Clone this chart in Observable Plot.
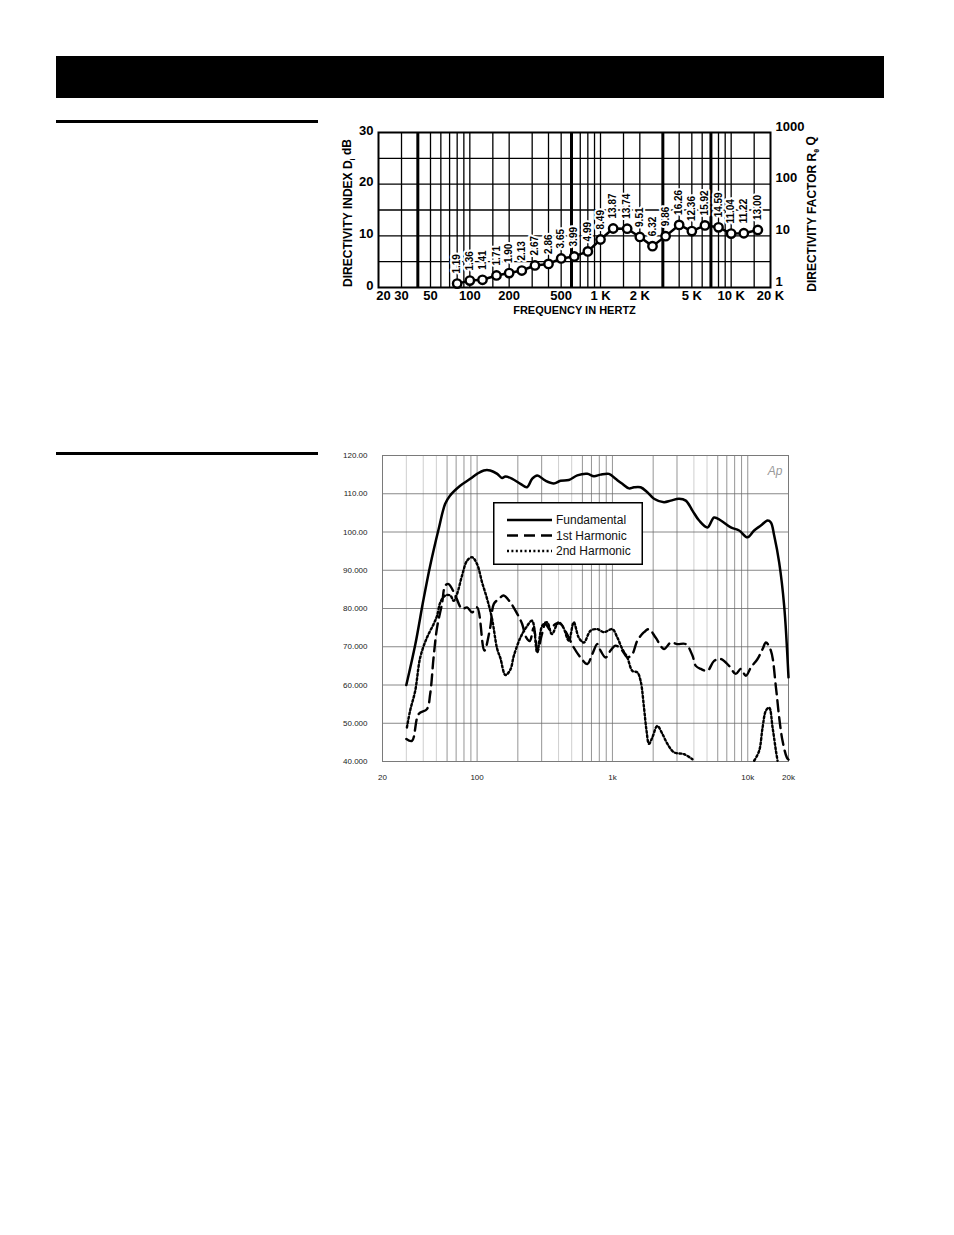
<!DOCTYPE html>
<html><head><meta charset="utf-8">
<script src="https://cdn.jsdelivr.net/npm/d3@7"></script>
<script src="https://cdn.jsdelivr.net/npm/@observablehq/plot@0.6"></script>
<style>
html,body{margin:0;padding:0;background:#fff;}
#page{position:relative;width:954px;height:1235px;overflow:hidden;font-family:"Liberation Sans",Arial,sans-serif;}
.abs{position:absolute;}
svg{display:block;}
</style></head><body><div id="page">
<div class="abs" style="left:56px;top:56px;width:828px;height:42px;background:#000"></div>
<div class="abs" style="left:56px;top:120px;width:262px;height:2.5px;background:#000"></div>
<div class="abs" style="left:56px;top:452px;width:262px;height:2.5px;background:#000"></div>
<div id="top" class="abs" style="left:330px;top:110px;width:500px;height:220px"></div>
<div id="bottom" class="abs" style="left:330px;top:440px;width:480px;height:360px"></div>
<div id="legend" class="abs" style="left:493px;top:502px;width:150px;height:63px"></div>
</div>
<script>
// ---------- Top chart data: directivity (1/3-octave bands) ----------
const bandFreqs = [80,100,125,160,200,250,315,400,500,630,800,1000,1250,1600,2000,2500,3150,4000,5000,6300,8000,10000,12500,16000];
const qValues = [1.19,1.36,1.41,1.71,1.90,2.13,2.67,2.86,3.65,3.99,4.99,8.49,13.87,13.74,9.51,6.32,9.86,16.26,12.36,15.92,14.59,11.04,11.22,13.00];
const topXTicks = [20,30,50,100,200,500,1000,2000,5000,10000,20000];
const topXLabels = ["20","30","50","100","200","500","1 K","2 K","5 K","10 K","20 K"];
const diTicks = [0,10,20,30];
const qTickLabels = ["1","10","100","1000"];
const diGridLines = [5,10,15,20,25];
const topGridFreqs = [30,50,60,70,80,90,100,150,200,300,400,500,700,800,900,1000,1500,2000,4000,5000,6000,8000,9000,10000,15000];
const topThickGridFreqs = [40,600,3000,7000];

// ---------- Bottom chart data: fundamental & harmonics ----------
const fundFreq = [30,35,40,45,52,58,63,75,89,100,112,125,141,153,162,182,209,234,255,278,320,369,413,476,550,652,730,817,942,1055,1183,1325,1443,1615,1811,2028,2404,2697,3107,3483,3902,4370,5036,5640,6325,7500,8630,9950,11150,12500,14000,14820,15690,17070,18580,20000];
const fundDb   = [60,70.7,82,91.2,100.8,107.3,109.5,112.1,113.9,115.2,116.1,116.1,115.2,114.1,114.5,113.9,112.6,111.7,113.9,114.8,113.4,112.7,113.4,113.6,114.8,115.2,114.6,115,115.2,113.9,112.6,111.4,111.7,111.7,110.4,108.7,107.8,108.2,108.7,108.2,105.6,103,101.2,103.8,103,101.2,100.4,98.6,100.4,101.7,103,102.5,99,92,80.7,62];

const h1Freq = [30,33,37,42.6,45,47.7,50.6,55,58.2,61.6,69,77.4,84.3,91.8,100,113,125,133,145,157,176,198,215,230,245,262,280,300,320,345,380,413,462,518,581,652,710,773,817,890,968,1055,1183,1288,1403,1528,1711,1862,2085,2404,2697,3020,3483,3902,4130,4500,5036,5640,6325,7280,8150,8890,9680,10550,11810,12870,13620,14820,16150,17070,18070,19460,20000];
const h1Db   = [45.9,45.4,52.4,53.7,57.6,67.2,75,81.2,86,86.4,83.4,79.9,80.3,79,80.3,69,75,81.2,82.5,83.4,81.6,78.6,76,72.5,71.5,75,69,73,76,74.5,76,76,73.3,69.8,67.2,65.5,68.1,70.7,69,67.2,69,70.3,69,67.2,68.1,71.6,73.8,74.6,72.4,69.4,71.1,70.7,70.7,67.7,65,64.2,63.7,66.3,66.8,65,62.9,64.2,62.4,64.6,66.8,69.4,71.1,69,59.4,51.5,45.4,41,40.5];

const h2Freq = [30.3,32,34.9,38,42.6,47.7,50.6,53.5,58.2,63.4,67.1,71.1,77.4,84.3,91.8,100,108.9,118.6,129,140.6,148.7,162,176,187,209,230,255,278,303,329,357,400,434,476,518,564,615,689,773,865,998,1087,1183,1288,1403,1528,1615,1711,1787,1862,1972,2148,2340,2549,2853,3383,3902,7000,11150,12140,12870,13620,14400,15250,16150,16600];
const h2Db   = [48.9,53.3,58.5,67.2,72.4,75.9,78.1,81.6,83.4,83.4,82,83.8,88.6,92.5,93.4,91.6,86.8,82.5,77.3,69.5,67,62.6,64,67.7,72.4,75,76.8,68.5,75.5,76.4,73.3,76.4,75,71.6,76.4,72.4,71.1,74.2,74.6,73.8,74.6,72.4,69.4,67.2,63.7,63.3,61.1,54.1,48,44.6,46.3,49.3,47.2,44.6,42.4,41.9,40.6,NaN,40.2,42.8,48.9,53.3,54.1,48.9,42.8,40.2];

const seriesNames = ["Fundamental","1st Harmonic","2nd Harmonic"];
const dbTicks = [40,50,60,70,80,90,100,110,120];
const botXTicks = [20,100,1000,10000,20000];
const botXLabels = ["20","100","1k","10k","20k"];
const botGridFreqs = [30,40,50,60,70,80,90,100,200,300,400,500,600,700,800,900,1000,2000,3000,4000,5000,6000,7000,8000,9000,10000];
const botLightGrid = [30,40,50,400,500,4000,5000];

// ---------- Top chart ----------
const topData = bandFreqs.map((f,i)=>({f, q: qValues[i], di: 10*Math.log10(qValues[i])}));
const FONT = "'Liberation Sans', Arial, Helvetica, sans-serif";
const topLabel = d => topXLabels[topXTicks.indexOf(d)];

const topSvg = Plot.plot({
  width: 500, height: 220,
  marginLeft: 48, marginRight: 60, marginTop: 22, marginBottom: 43,
  style: {fontFamily: FONT, fontWeight: "bold", background: "transparent", color: "#000", overflow: "visible"},
  x: {type: "log", domain: [20, 20000], axis: null},
  y: {domain: [0, 30]},
  marks: [
    Plot.ruleX(topGridFreqs, {stroke: "#000", strokeWidth: 1.3}),
    Plot.ruleX(topThickGridFreqs, {stroke: "#000", strokeWidth: 3}),
    Plot.ruleY(diGridLines, {stroke: "#000", strokeWidth: 1.3}),
    Plot.frame({stroke: "#000", strokeWidth: 2}),
    Plot.text(topData, {x: "f", y: "di", text: d => d.q.toFixed(2), rotate: -90, textAnchor: "start",
      lineAnchor: "middle", dy: -10, fontSize: 10, fontWeight: "bold", fill: "#000", stroke: "#fff", strokeWidth: 4}),
    Plot.line(topData, {x: "f", y: "di", stroke: "#000", strokeWidth: 2.5}),
    Plot.dot(topData, {x: "f", y: "di", r: 4.2, stroke: "#000", strokeWidth: 2.4, fill: "#fff"}),
    Plot.text(topXTicks.slice(0, 1), {x: d => d, frameAnchor: "bottom", text: topLabel,
      lineAnchor: "middle", dx: 5, dy: 8.5, fontSize: 13, fontWeight: "bold", fill: "#000"}),
    Plot.text(topXTicks.slice(1), {x: d => d, frameAnchor: "bottom", text: topLabel,
      lineAnchor: "middle", dy: 8.5, fontSize: 13, fontWeight: "bold", fill: "#000"}),
    Plot.axisY(diTicks, {anchor: "left", tickSize: 0, tickPadding: 5, dy: -2, fontSize: 13, fontWeight: "bold", label: null}),
    Plot.axisY(diTicks, {anchor: "right", tickSize: 0, tickPadding: 5, dy: -6, fontSize: 13, fontWeight: "bold",
      tickFormat: d => qTickLabels[diTicks.indexOf(d)], label: null}),
    Plot.text(["FREQUENCY IN HERTZ"], {frameAnchor: "bottom", textAnchor: "middle", dy: 26, fontSize: 11, fontWeight: "bold"}),
    Plot.text(["DIRECTIVITY INDEX Di dB"], {frameAnchor: "left", textAnchor: "middle", rotate: -90, dx: -30, dy: 3, fontSize: 12, fontWeight: "bold"}),
    Plot.text(["DIRECTIVITY FACTOR Rθ Q"], {frameAnchor: "right", textAnchor: "middle", rotate: -90, dx: 42, dy: 4, fontSize: 12, fontWeight: "bold"})
  ]
});
document.getElementById("top").appendChild(topSvg);

function subscriptify(svg, full, before, sub, after) {
  d3.select(svg).selectAll("text").filter(function(){ return this.textContent === full; }).each(function(){
    const t = d3.select(this);
    t.selectAll("*").remove();
    t.text(null);
    t.attr("text-anchor", "middle");
    t.append("tspan").text(before);
    t.append("tspan").attr("font-size", "0.6em").attr("dy", "0.35em").text(sub);
    t.append("tspan").attr("dy", "-0.35em").text(after);
  });
}
subscriptify(topSvg, "DIRECTIVITY INDEX Di dB", "DIRECTIVITY INDEX D", "i", " dB");
subscriptify(topSvg, "DIRECTIVITY FACTOR Rθ Q", "DIRECTIVITY FACTOR R", "θ", " Q");

// ---------- Bottom chart ----------
const fund = fundFreq.map((f,i)=>({f, db: fundDb[i]}));
const h1 = h1Freq.map((f,i)=>({f, db: h1Db[i]}));
const h2 = h2Freq.map((f,i)=>({f, db: h2Db[i]}));
const darkGrid = botGridFreqs.filter(f => !botLightGrid.includes(f));

const botSvg = Plot.plot({
  width: 480, height: 360,
  marginLeft: 52, marginRight: 22, marginTop: 15, marginBottom: 39,
  style: {fontFamily: "Arial, 'Liberation Sans', sans-serif", background: "transparent", color: "#222", overflow: "visible"},
  x: {type: "log", domain: [20, 20000], axis: null},
  y: {domain: [40, 120]},
  marks: [
    Plot.ruleX(botLightGrid, {stroke: "#cfcfcf", strokeWidth: 1}),
    Plot.ruleX(darkGrid, {stroke: "#7a7a7a", strokeWidth: 0.8}),
    Plot.ruleY(dbTicks.slice(1, -1), {stroke: "#6a6a6a", strokeWidth: 0.8}),
    Plot.frame({stroke: "#7a7a7a", strokeWidth: 1}),
    Plot.line(h2, {x: "f", y: "db", stroke: "#000", strokeWidth: 2.4, strokeDasharray: "2,2.4", curve: "catmull-rom"}),
    Plot.line(h1, {x: "f", y: "db", stroke: "#000", strokeWidth: 2.4, strokeDasharray: "11,6", curve: "catmull-rom"}),
    Plot.line(fund, {x: "f", y: "db", stroke: "#000", strokeWidth: 2.5, curve: "catmull-rom"}),
    Plot.text(botXTicks, {x: d => d, frameAnchor: "bottom", text: d => botXLabels[botXTicks.indexOf(d)],
      lineAnchor: "middle", dy: 16, fontSize: 8, fill: "#222"}),
    Plot.axisY(dbTicks, {anchor: "left", tickSize: 0, tickPadding: 15, fontSize: 8,
      tickFormat: d => d.toPrecision(5), label: null}),
    Plot.text(["Ap"], {frameAnchor: "top-right", textAnchor: "end", dx: -6, dy: 11, fontSize: 12,
      fontStyle: "italic", fill: "#9a9a9a"})
  ]
});
document.getElementById("bottom").appendChild(botSvg);

// ---------- Legend ----------
const dashes = [null, "11,6", "2,2.4"];
const lg = d3.select("#legend").append("svg").attr("width", 150).attr("height", 63);
lg.append("rect").attr("x", 0.75).attr("y", 0.75).attr("width", 148.5).attr("height", 61.5)
  .attr("fill", "#fff").attr("stroke", "#000").attr("stroke-width", 1.5);
seriesNames.forEach((name, i) => {
  const y = 18 + i * 15.5;
  lg.append("line").attr("x1", 14).attr("x2", 59).attr("y1", y).attr("y2", y)
    .attr("stroke", "#000").attr("stroke-width", 2.4).attr("stroke-dasharray", dashes[i]);
  lg.append("text").attr("x", 63).attr("y", y).attr("dy", "0.35em")
    .attr("font-family", "Arial, 'Liberation Sans', sans-serif").attr("font-size", 12).attr("fill", "#111").text(name);
});
</script>
</body></html>
